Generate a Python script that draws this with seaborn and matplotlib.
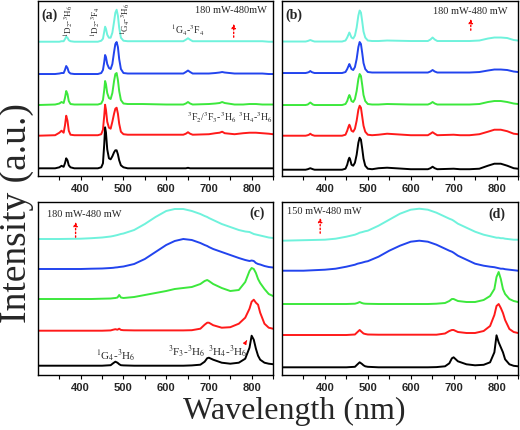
import numpy as np
import pandas as pd
import seaborn as sns
import matplotlib.pyplot as plt

# excitation power increases from bottom curve to top curve
curve_names = ['1', '2', '3', '4', '5']
curve_colors = ['#000000', '#ff1a1a', '#3ce83c', '#2244ee', '#6ff2dc']

# wavelength grid (nm) for panels (a) and (b)
grid_ab = [300, 340, 350, 355, 360, 363, 366, 369, 372, 376, 385,
           440, 448, 452, 455, 457, 459, 462, 466, 470, 474, 478, 481, 484, 487, 490, 494, 500, 510,
           525, 545, 600, 640, 646, 651, 656, 662, 700, 715, 725, 731, 737, 760, 780, 795, 810, 825, 840, 850]

a_black = [0, 0, 1, 2.5, 1.5, 5, 10, 8, 3, 1, 0,
           0, 1, 5, 24, 41, 36, 19, 10, 9, 12, 16, 18, 18, 14, 8, 3, 1, 0,
           0, 0, 0, 0, 0, 0.5, 0, 0, 0, 0, 0, 0, 0, 0, 0, 0, 0, 0, 0, 0]
a_red = [0, 0.5, 3, 5, 3, 10, 20, 15, 5, 1, 0.5,
         0.5, 1.5, 6, 20, 31, 26, 14, 8, 7, 14, 22, 27, 28, 22, 12, 4, 1.5, 1,
         1, 1, 1, 1, 2, 3.5, 2, 1, 1.5, 2.5, 3, 4, 2.5, 1.5, 2.5, 3, 3, 2.5, 2, 1.5]
a_green = [0, 0.5, 1.5, 3, 2, 7, 14, 11, 4, 1, 0.5,
           0.5, 1.5, 5, 15, 24, 21, 12, 7, 6, 12, 24, 31, 32, 25, 14, 5, 1.5, 1,
           1, 1, 0.5, 0.5, 1.5, 3, 1.5, 0.5, 1, 1.5, 2, 3, 2, 0.5, 0.5, 1, 1, 0.5, 0.5, 0.5]
a_blue = [0, 0, 0.5, 1, 1, 4, 8, 6, 2, 0.5, 0,
          0, 1, 4, 12, 19, 17, 10, 6, 5, 10, 22, 30, 32, 27, 15, 5, 1, 0.5,
          0.5, 0.5, 0.5, 0.5, 2, 3.5, 2, 0.5, 0.5, 1, 1.5, 2, 1.5, 0.5, 0.5, 0.5, 0.5, 0.5, 0, 0]
a_cyan = [0, 0, 0, 0.5, 0.5, 2.5, 5, 4, 1.5, 0.5, 0,
          0, 1, 3, 10, 15, 13, 7, 4, 4, 9, 20, 29, 32, 26, 14, 4, 1, 0.5,
          0.5, 0.5, 0.5, 0.5, 2, 3.5, 2, 0.5, 0.5, 0.5, 0.5, 0.5, 0.5, 0.5, 0.5, 0.5, 0.5, 0.5, 0, 0]

b_black = [0, 0, 0, 0, 0.5, 1, 1.5, 1, 0.5, 0, 0,
           0, 1, 5, 10, 12, 10, 5, 4, 7, 15, 27, 32, 30, 21, 11, 4, 1, 0.5,
           1.5, 2, 0.5, 0.5, 1.5, 3, 1.5, 0.5, 1, 0.5, 0.5, 0.5, 0.5, 1, 4, 6, 6, 4, 1.5, 1]
b_red = [0, 0, 0, 0, 0.5, 1, 2, 1, 0.5, 0, 0,
         0, 1, 5, 9, 11, 9, 5, 4, 7, 15, 26, 30, 28, 19, 10, 4, 1, 0.5,
         1, 2, 0.5, 0.5, 2, 3.5, 2, 0.5, 1, 0.5, 0.5, 0.5, 0.5, 1.5, 4, 6, 6, 4.5, 2, 1.5]
b_green = [0, 0, 0, 0, 0.5, 1.5, 2.5, 1.5, 0.5, 0, 0,
           0, 1, 4, 8, 10, 8, 4, 3, 6, 14, 26, 31, 29, 20, 10, 4, 1, 0.5,
           0.5, 1, 0.5, 0.5, 1.5, 3, 1.5, 0.5, 0.5, 0.5, 0.5, 0.5, 0.5, 1, 3, 4, 4, 3, 1.5, 1]
b_blue = [0, 0, 0, 0, 0.5, 1, 2, 1, 0.5, 0, 0,
          0, 1, 4, 7, 9, 7, 4, 3, 6, 14, 26, 31, 29, 20, 10, 4, 1, 0.5,
          0.5, 0.5, 0.5, 0.5, 1.5, 3, 1.5, 0.5, 0.5, 0.5, 0.5, 0.5, 0.5, 1, 2.5, 3.5, 3.5, 3, 1.5, 1]
b_cyan = [0, 0, 0, 0, 0.5, 1, 1.5, 1, 0.5, 0, 0,
          0, 1, 4, 7, 9, 7, 4, 3, 6, 14, 26, 31, 29, 20, 10, 4, 1, 0.5,
          0.5, 1, 0.5, 0.5, 2, 4, 2, 0.5, 0.5, 0.5, 0.5, 0.5, 0.5, 1, 3, 4, 4, 3.5, 1.5, 1]

# wavelength grid (nm) for panels (c) and (d)
grid_cd = [300, 350, 400, 425, 450, 470, 476, 481, 486, 490, 494, 500,
           525, 550, 575, 600, 620, 640, 660, 680, 690, 696, 700, 710, 730, 750, 770, 785,
           795, 800, 805, 810, 815, 820, 830, 840, 850]

c_black = [0, 0, 0, 0, 0, 0.5, 2.5, 4, 3, 1.5, 0.5, 0.3,
           0, 0, 0, 0, 0, 0, 0.3, 1, 4, 7.5, 8, 6, 3, 2, 3, 7,
           18, 30, 26, 17, 10, 6, 3, 2, 1.5]
c_red = [0, 0, 0, 0, 0, 0.3, 1, 1.5, 1, 2, 0.8, 0.5,
         0.3, 0.3, 0.3, 0.3, 0.3, 0.3, 0.5, 2, 6, 8, 8, 5.5, 3, 3.5, 7, 13,
         22, 29, 31, 28, 26, 18, 7, 3, 2]
c_green = [0, 0, 0, 0, 0.3, 0.5, 0.8, 1, 1.5, 4, 1.5, 1,
           2, 4, 6, 8, 10, 11, 12, 15, 18, 19, 18, 15, 11, 8, 9, 17,
           28, 31, 30, 26, 20, 16, 10, 5, 3]
c_blue = [0, 0, 0, 0.3, 0.5, 1, 1.2, 1.5, 1.7, 2, 2.2, 2.5,
          5, 10, 17, 24, 28, 30, 29, 26, 24, 23, 22, 20, 17, 14, 11, 9,
          8, 8.5, 8, 6, 5, 4.5, 3, 2, 1.5]
c_cyan = [0, 0, 0.3, 0.8, 1.5, 2.5, 3, 3.5, 4, 4.5, 5, 5.5,
          9, 15, 22, 28, 30, 30, 28, 25, 23, 22, 21, 19, 15, 12, 9, 7.5,
          7, 6, 5, 4.5, 4, 3.5, 2.5, 1.5, 1]

d_black = [0, 0, 0, 0, 0, 0.5, 3, 5, 3.5, 2, 1, 0.5,
           0, 0, 0, 0, 0, 0, 0.2, 1, 4, 9, 10, 6, 3, 2, 2.5, 5,
           15, 32, 25, 20, 15, 8, 3, 1.5, 1]
d_red = [0, 0, 0, 0, 0, 0.5, 3, 5, 3, 1.5, 1, 0.5,
         0.3, 0.3, 0.3, 0.3, 0.3, 0.3, 0.3, 1.5, 4, 5, 5, 3, 2, 2, 4, 9,
         20, 29, 31, 27, 22, 15, 6, 3, 2]
d_green = [0, 0, 0, 0, 0, 0.3, 1, 2, 1, 0.5, 0.3, 0.2,
           0, 0, 0, 0, 0, 0, 0.3, 1, 3, 5, 5, 3, 2, 2, 4, 8,
           15, 27, 32, 25, 15, 10, 5, 3, 2]
d_blue = [0, 0, 1, 2, 4, 6, 7, 7.5, 8, 8.5, 9, 9.5,
          14, 20, 25, 29, 30, 29, 26, 22, 20, 19, 18, 15, 11, 7, 5, 4,
          3.5, 3, 2.5, 2, 2, 1.5, 1, 0.5, 0]
d_cyan = [0, 0.5, 1, 2, 4, 6, 7, 8, 8.5, 9, 9.5, 10,
          15, 21, 27, 31, 32, 31, 28, 24, 22, 21, 20, 17, 13, 9, 6, 4.5,
          3.5, 3, 3, 2.5, 2.5, 2, 1.5, 1, 1]

# vertical stacking of the curves in each panel
offsets_a = [7.7, 40.3, 71, 102, 134.3]
offsets_b = [6.3, 40.3, 71, 103, 134.5]
offsets_c = [9.3, 44.3, 76, 106, 136]
offsets_d = [7.7, 40, 71, 104.3, 134.3]

sns.set_theme(style='white')
plt.rcParams['font.family'] = ['Liberation Serif', 'DejaVu Serif']
plt.rcParams['mathtext.fontset'] = 'stix'

fig = plt.figure(figsize=(5.2, 4.31), dpi=100)
ax_a = fig.add_axes([0.0731, 0.5893, 0.4519, 0.4060])
ax_b = fig.add_axes([0.5423, 0.5893, 0.4538, 0.4060])
ax_c = fig.add_axes([0.0731, 0.1276, 0.4519, 0.4014])
ax_d = fig.add_axes([0.5423, 0.1276, 0.4538, 0.4014])


def draw_panel(ax, grid, traces, offsets, top):
    frames = []
    for name, vals, off in zip(curve_names, traces, offsets):
        frames.append(pd.DataFrame({'wavelength': grid,
                                    'intensity': np.array(vals, dtype=float) + off,
                                    'curve': name}))
    df = pd.concat(frames, ignore_index=True)
    sns.lineplot(data=df, x='wavelength', y='intensity', hue='curve',
                 palette=curve_colors, estimator=None, sort=False,
                 linewidth=1.4, legend=False, ax=ax)
    ax.set_xlim(300, 850)
    ax.set_ylim(0, top)
    ax.set_xticks([400, 500, 600, 700, 800])
    ax.set_xticks([350, 450, 550, 650, 750, 850], minor=True)
    ax.set_yticks([])
    ax.set_xlabel('')
    ax.set_ylabel('')
    ax.tick_params(axis='x', which='both', direction='out', bottom=True,
                   length=3, width=0.8, color='black', pad=2)
    for lbl in ax.get_xticklabels():
        lbl.set_family('Liberation Sans')
        lbl.set_fontweight('bold')
        lbl.set_fontsize(8)
    for sp in ax.spines.values():
        sp.set_color('black')
        sp.set_linewidth(1.0)


draw_panel(ax_a, grid_ab, [a_black, a_red, a_green, a_blue, a_cyan], offsets_a, 175)
draw_panel(ax_b, grid_ab, [b_black, b_red, b_green, b_blue, b_cyan], offsets_b, 175)
draw_panel(ax_c, grid_cd, [c_black, c_red, c_green, c_blue, c_cyan], offsets_c, 173)
draw_panel(ax_d, grid_cd, [d_black, d_red, d_green, d_blue, d_cyan], offsets_d, 173)

arrow_kw = dict(arrowstyle='-|>', color='red', linestyle=':', lw=1.0, mutation_scale=6)

# panel (a)
ax_a.text(307, 162, '(a)', fontsize=10, fontweight='bold', va='center')
ax_a.text(667, 167, '180 mW-480mW', fontsize=7.5, va='center')
ax_a.annotate('', xy=(758, 155), xytext=(758, 136), arrowprops=arrow_kw)
ax_a.text(374, 156, r'$^{1}$D$_{2}$-$^{3}$H$_{6}$', fontsize=6.5, rotation=90, ha='center', va='center')
ax_a.text(437, 155, r'$^{1}$D$_{2}$-$^{3}$F$_{4}$', fontsize=6.5, rotation=90, ha='center', va='center')
ax_a.text(507, 158, r'$^{1}$G$_{4}$-$^{3}$H$_{6}$', fontsize=6.5, rotation=90, ha='center', va='center')
ax_a.text(650, 147, r'$^{1}$G$_{4}$-$^{3}$F$_{4}$', fontsize=7, ha='center', va='center')
ax_a.text(648, 59, r'$^{3}$F$_{2}$/$^{3}$F$_{3}$-$^{3}$H$_{6}$', fontsize=7, ha='left', va='center')
ax_a.text(768, 59, r'$^{3}$H$_{4}$-$^{3}$H$_{6}$', fontsize=7, ha='left', va='center')

# panel (b)
ax_b.text(307, 162, '(b)', fontsize=10, fontweight='bold', va='center')
ax_b.text(652, 166, '180 mW-480 mW', fontsize=7.5, va='center')
ax_b.annotate('', xy=(740, 160), xytext=(740, 143), arrowprops=arrow_kw)

# panel (c)
ax_c.text(831, 163, '(c)', fontsize=10, fontweight='bold', ha='right', va='center')
ax_c.text(321, 162, '180 mW-480 mW', fontsize=7.5, va='center')
ax_c.annotate('', xy=(388, 156), xytext=(388, 135), arrowprops=arrow_kw)
ax_c.text(481, 21, r'$^{1}$G$_{4}$-$^{3}$H$_{6}$', fontsize=8, ha='center', va='center')
ax_c.text(647, 24, r'$^{3}$F$_{3}$-$^{3}$H$_{6}$', fontsize=8, ha='center', va='center')
ax_c.text(745, 24, r'$^{3}$H$_{4}$-$^{3}$H$_{6}$', fontsize=8, ha='center', va='center')
ax_c.annotate('', xy=(792, 37), xytext=(785, 32),
              arrowprops=dict(arrowstyle='-|>', color='red', lw=0.8, mutation_scale=5))

# panel (d)
ax_d.text(820, 162, '(d)', fontsize=10, fontweight='bold', ha='right', va='center')
ax_d.text(312, 165, '150 mW-480 mW', fontsize=7.5, va='center')
ax_d.annotate('', xy=(389, 160), xytext=(389, 139), arrowprops=arrow_kw)

fig.text(0.033, 0.505, 'Intensity (a.u.)', fontsize=27, rotation=90, ha='center', va='center')
fig.text(0.565, 0.045, 'Wavelength (nm)', fontsize=23, ha='center', va='center')

fig.savefig('out.png', dpi=100)
